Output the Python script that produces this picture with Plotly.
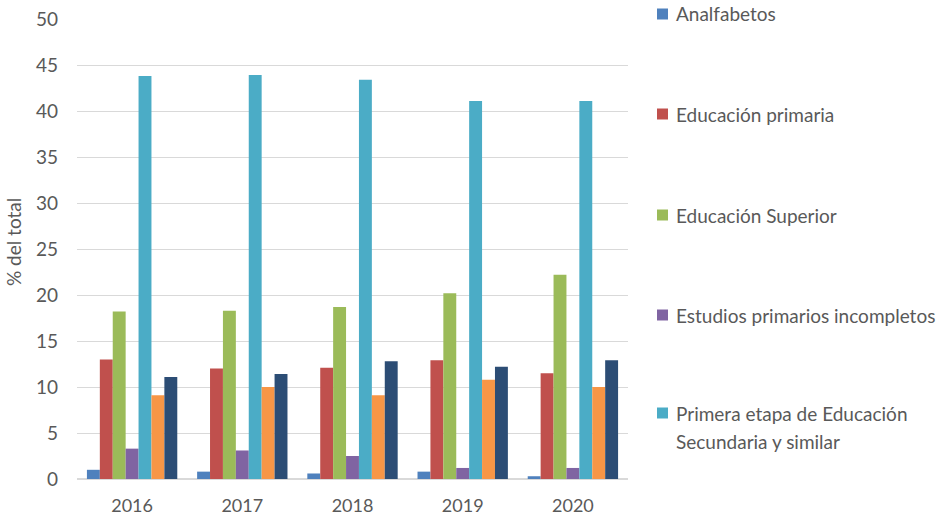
import plotly.graph_objects as go

years = ["2016", "2017", "2018", "2019", "2020"]
series_names = [
    "Analfabetos",
    "Educación primaria",
    "Educación Superior",
    "Estudios primarios incompletos",
    "Primera etapa de Educación<br>Secundaria y similar",
    "Segunda etapa de Educación Secundaria",
    "Formación profesional",
]
analfabetos = [1.0, 0.8, 0.6, 0.8, 0.3]
primaria = [13.0, 12.0, 12.1, 12.9, 11.5]
superior = [18.2, 18.3, 18.7, 20.2, 22.2]
prim_incompletos = [3.3, 3.1, 2.5, 1.2, 1.2]
primera_etapa = [43.8, 43.9, 43.4, 41.1, 41.1]
serie_naranja = [9.1, 10.0, 9.1, 10.8, 10.0]
serie_marino = [11.1, 11.4, 12.8, 12.2, 12.9]

values = [analfabetos, primaria, superior, prim_incompletos, primera_etapa,
          serie_naranja, serie_marino]
colors = ["#4F81BD", "#C0504D", "#9BBB59", "#8064A2", "#4BACC6", "#F79646", "#2C4D75"]
n_legend_visible = 5

W, H = 947, 517
L, R, T, B = 77, 628, 19, 479
TXT = "#595959"
FONT = "Lato, Open Sans, sans-serif"

fig = go.Figure()
for n, v, c in zip(series_names, values, colors):
    fig.add_trace(go.Bar(x=years, y=v, name=n, marker_color=c, marker_line_width=0,
                         showlegend=False))

# Manual legend (items widely spaced as in the reference)
legend_px_y = [14, 114, 215, 315, 413]
line_gap = 28
annotations = []
shapes = []
for i in range(n_legend_visible):
    py = legend_px_y[i]
    for k, line in enumerate(series_names[i].split("<br>")):
        annotations.append(dict(
            xref="paper", yref="paper", x=(674 - L) / (R - L),
            y=(B - (py + k * line_gap)) / (B - T),
            xanchor="left", yanchor="middle",
            text=line, showarrow=False, align="left",
            font=dict(family=FONT, size=19, color=TXT)))
    shapes.append(dict(
        type="rect", xref="paper", yref="paper",
        x0=(657 - L) / (R - L), x1=(668 - L) / (R - L),
        y0=(B - py - 5.5) / (B - T), y1=(B - py + 5.5) / (B - T),
        fillcolor=colors[i], line_width=0))

# y-axis title
annotations.append(dict(
    xref="paper", yref="paper", x=(13 - L) / (R - L), y=(B - 242) / (B - T),
    xanchor="center", yanchor="middle", textangle=-90, showarrow=False,
    text="% del total", font=dict(family=FONT, size=19, color=TXT)))

fig.update_layout(
    width=W, height=H,
    margin=dict(l=L, r=W - R, t=T, b=H - B, autoexpand=False),
    plot_bgcolor="white", paper_bgcolor="white",
    barmode="group", bargap=0.18, bargroupgap=0,
    font=dict(family=FONT, color=TXT, size=17),
    showlegend=False,
    annotations=annotations, shapes=shapes,
    xaxis=dict(showgrid=False, showline=False, ticks="", automargin=False,
               ticklabelstandoff=14,
               tickfont=dict(family=FONT, size=18, color=TXT)),
    yaxis=dict(range=[0, 50], dtick=5, showgrid=True, gridcolor="#D9D9D9",
               gridwidth=1, zeroline=True, zerolinecolor="#D9D9D9",
               automargin=False, ticklabelstandoff=18,
               tickfont=dict(family=FONT, size=19, color=TXT), ticks=""),
)

fig.write_html("out.html", config={"displayModeBar": False},
               post_script="document.body.style.margin='0';")
